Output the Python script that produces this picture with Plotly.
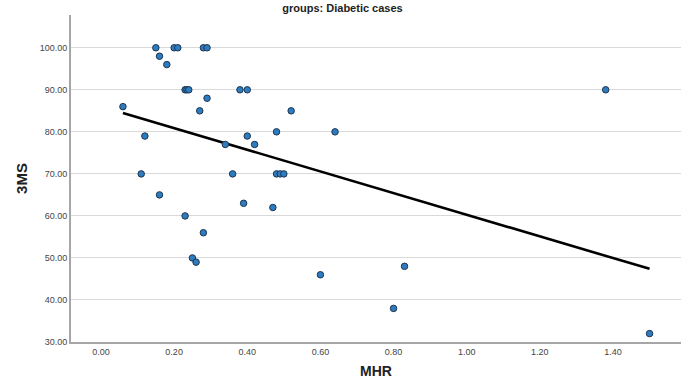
import plotly.graph_objects as go

# MHR values (x) and 3MS scores (y)
mhr = [0.15, 0.20, 0.21, 0.28, 0.29, 0.16, 0.18, 0.23, 0.235, 0.24, 0.38, 0.40,
       0.29, 0.06, 0.27, 0.52, 0.12, 0.40, 0.48, 0.64, 0.34, 0.42, 0.11, 0.36,
       0.48, 0.49, 0.50, 0.16, 0.23, 0.39, 0.47, 0.28, 0.25, 0.26, 0.60, 0.83,
       0.80, 1.38, 1.50]
ms3 = [100, 100, 100, 100, 100, 98, 96, 90, 90, 90, 90, 90,
       88, 86, 85, 85, 79, 79, 80, 80, 77, 77, 70, 70,
       70, 70, 70, 65, 60, 63, 62, 56, 50, 49, 46, 48,
       38, 90, 32]

# fit line end points
fit_x = [0.06, 1.50]
fit_y = [84.5, 47.4]

x_ticks = [0.0, 0.2, 0.4, 0.6, 0.8, 1.0, 1.2, 1.4]
y_ticks = [30, 40, 50, 60, 70, 80, 90, 100]

fig = go.Figure()
fig.add_trace(go.Scatter(
    x=fit_x, y=fit_y, mode="lines",
    line=dict(color="black", width=2.6),
    showlegend=False, hoverinfo="skip"))
fig.add_trace(go.Scatter(
    x=mhr, y=ms3, mode="markers",
    marker=dict(size=6.5, color="#2e7cc0", line=dict(color="#1d3550", width=1)),
    showlegend=False))

fig.update_layout(
    width=685, height=382,
    margin=dict(l=71, r=4, t=15, b=40),
    paper_bgcolor="white", plot_bgcolor="white",
    font=dict(family="Liberation Sans, Arial, sans-serif", color="#333"),
    title=dict(text="<b>groups: Diabetic cases</b>", x=0.5, xanchor="center",
               y=0.988, yanchor="top", font=dict(size=11, color="#222")),
    xaxis=dict(range=[-0.082, 1.586], tickvals=x_ticks, tickformat=".2f",
               showgrid=False, zeroline=False, showline=True,
               linecolor="#a6a6a6", linewidth=2, ticks="",
               tickfont=dict(size=9, color="#444"),
               title=dict(text="<b>MHR</b>", font=dict(size=14, color="#222"),
                          standoff=10)),
    yaxis=dict(range=[30, 107.8], tickvals=y_ticks, tickformat=".2f",
               showgrid=True, gridcolor="#d9d9d9", gridwidth=1.3,
               zeroline=False, showline=True, linecolor="#a6a6a6",
               linewidth=2, ticks="", tickfont=dict(size=9, color="#444"),
               title=dict(text="<b>3MS</b>", font=dict(size=15, color="#222"),
                          standoff=8)),
)
fig.write_html("out.html", config={"displayModeBar": False},
               post_script="document.body.style.margin='0';document.body.style.overflow='hidden';")
